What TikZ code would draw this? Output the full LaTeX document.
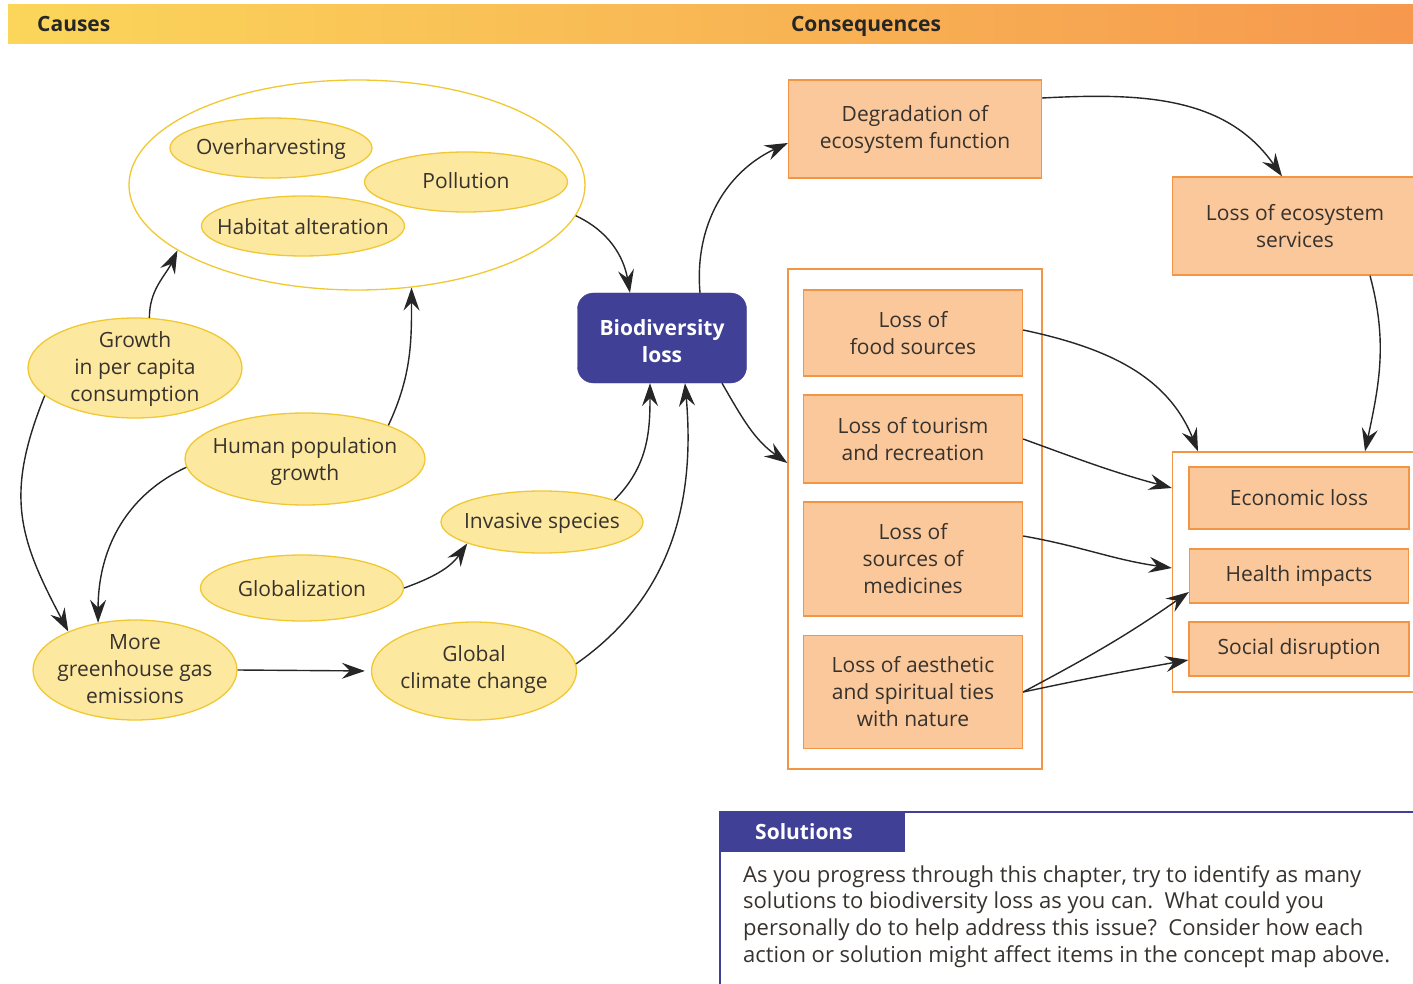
\documentclass[tikz,border=0pt]{standalone}
\usepackage{fontspec}
\setmainfont{Open Sans}
\usetikzlibrary{arrows.meta,shapes.geometric}
\definecolor{elfill}{RGB}{253,232,160}
\definecolor{eldraw}{RGB}{240,200,50}
\definecolor{bxfill}{RGB}{250,200,155}
\definecolor{bxdraw}{RGB}{242,150,70}
\definecolor{indigo}{RGB}{64,64,150}
\definecolor{txt}{RGB}{55,50,45}
\definecolor{hdleft}{RGB}{251,214,90}
\definecolor{hdright}{RGB}{246,152,78}
\tikzset{
  x=1pt,y=-1pt,
  base/.style={font=\fontsize{21}{27}\selectfont, text=txt, align=center, inner sep=0pt},
  cause/.style={ellipse, draw=eldraw, fill=elfill, line width=1.3pt, inner sep=0pt},
  ctext/.style={base, yshift=-1pt},
  cons/.style={base, rectangle, draw=bxdraw, fill=bxfill, line width=1.3pt},
  frame/.style={rectangle, draw=bxdraw, fill=white, line width=1.3pt, inner sep=0pt},
  hd/.style={font=\bfseries\fontsize{21}{25}\selectfont, inner sep=0pt, anchor=base},
  arr/.style={-{Stealth[length=23pt,width=16pt,inset=8pt]}, line width=1.4pt, draw=black!85},
}
\begin{document}
\begin{tikzpicture}
\useasboundingbox (0,0) rectangle (1413,984);
% header
\node[left color=hdleft, right color=hdright, minimum width=1405pt, minimum height=39pt, inner sep=0pt] (hdr) at (710.5,24.5) {};
\node[hd, text=black!85, anchor=base west] (causes) at (37,32) {Causes};
\node[hd, text=black!85] (conseq) at (866,32) {Consequences};

% causes
\node[cause, fill=white, minimum width=456pt, minimum height=210pt] (grp) at (357,185) {};
\node[cause, minimum width=202pt, minimum height=60pt, label={[ctext]center:Overharvesting}] (over) at (271,148) {};
\node[cause, minimum width=203pt, minimum height=60pt, label={[ctext,yshift=2pt]center:Pollution}] (poll) at (466,182) {};
\node[cause, minimum width=203pt, minimum height=60pt, label={[ctext]center:Habitat alteration}] (hab) at (303,226) {};
\node[cause, minimum width=214pt, minimum height=100pt, label={[ctext]center:Growth\\in per capita\\consumption}] (growth) at (135,368) {};
\node[cause, minimum width=240pt, minimum height=92pt, label={[ctext,yshift=-2pt]center:Human population\\growth}] (human) at (305,459) {};
\node[cause, minimum width=202pt, minimum height=62pt, label={[ctext]center:Invasive species}] (inv) at (542,522) {};
\node[cause, minimum width=203pt, minimum height=66pt, label={[ctext]center:Globalization}] (glob) at (302,588) {};
\node[cause, minimum width=204pt, minimum height=100pt, label={[ctext,yshift=2pt]center:More\\greenhouse gas\\emissions}] (ghg) at (135,670) {};
\node[cause, minimum width=205pt, minimum height=98pt, label={[ctext,yshift=2pt]center:Global\\climate change}] (clim) at (474,671) {};

% biodiversity loss
\node[base, rectangle, rounded corners=16pt, fill=indigo, draw=indigo, text=white, font=\bfseries\fontsize{21}{27}\selectfont, minimum width=169pt, minimum height=90pt] (bio) at (662,338) {};
\node[base, text=white, font=\bfseries\fontsize{21}{27}\selectfont] (biotext) at (662,341) {Biodiversity\\loss};

% consequences
\node[cons, minimum width=253pt, minimum height=98pt] (deg) at (915,129) {Degradation of\\ecosystem function};
\node[cons, minimum width=245pt, minimum height=98pt] (eco) at (1295,226) {Loss of ecosystem\\services};
\node[frame, minimum width=254pt, minimum height=500pt] (mid) at (915,519) {};
\node[cons, minimum width=219pt, minimum height=86pt] (food) at (913,333) {Loss of\\food sources};
\node[cons, minimum width=219pt, minimum height=88pt] (tour) at (913,439) {Loss of tourism\\and recreation};
\node[cons, minimum width=219pt, minimum height=114pt] (med) at (913,559) {Loss of\\sources of\\medicines};
\node[cons, minimum width=219pt, minimum height=113pt] (aes) at (913,692) {Loss of aesthetic\\and spiritual ties\\with nature};
\node[frame, minimum width=245pt, minimum height=240pt] (rbox) at (1295,572) {};
\node[cons, minimum width=220pt, minimum height=62pt] (econ) at (1299,498) {Economic loss};
\node[cons, minimum width=219pt, minimum height=54pt] (health) at (1299,576) {Health impacts};
\node[cons, minimum width=220pt, minimum height=54pt] (social) at (1299,649) {Social disruption};

% solutions
\coordinate (solTR) at (1413,812);
\coordinate (solBL) at (720,984);
\draw[indigo, line width=1.2pt] (solTR) -- (720,812) -- (solBL);
\node[fill=indigo, minimum width=185pt, minimum height=40pt, inner sep=0pt] (soltab) at (812.5,832) {};
\node[hd, text=white, anchor=base west] (soltitle) at (755,839) {Solutions};
\node[font=\fontsize{22}{26.7}\selectfont, text=txt, anchor=north west, align=left, inner sep=0pt] (soltext) at (743,865) {As you progress through this chapter, try to identify as many\\solutions to biodiversity loss as you can.\ \ What could you\\personally do to help address this issue?\ \ Consider how each\\action or solution might affect items in the concept map above.};

% arrows - causes
\draw[arr] (grp.-8) to[out=-25,in=100] ([xshift=-32pt]bio.north);
\draw[arr] (growth.74) to[out=90,in=245] (grp.200);
\draw[arr] (human.22) to[out=65,in=-90] (grp.-62);
\draw[arr] (growth.197) to[out=248,in=118,looseness=1.15] (ghg.150);
\draw[arr] (human.184) to[out=205,in=90] (ghg.128);
\draw[arr] (glob.east) to[out=20,in=235] (inv.196);
\draw[arr, shorten >=6pt] (ghg.east) -- (clim.west);
\draw[arr] (inv.17) to[out=45,in=-90] ([xshift=-12pt]bio.south);
\draw[arr] (clim.4) to[out=35,in=-85] ([xshift=23pt]bio.south);

% arrows - consequences
\draw[arr] ([xshift=38pt]bio.north) to[out=95,in=205] ([yshift=-14pt]deg.west);
\draw[arr] ([xshift=60pt]bio.south) to[out=-60,in=145] ([yshift=56pt]mid.west);
\draw[arr] ([yshift=31pt]deg.east) to[out=3,in=125] ([xshift=-13pt]eco.north);
\draw[arr] ([xshift=75pt]eco.south) to[out=-75,in=78] ([xshift=70pt]rbox.north);
\draw[arr] ([yshift=3pt]food.east) to[out=-12,in=112] ([xshift=-97pt]rbox.north);
\draw[arr] (tour.east) to[out=-20,in=165] ([yshift=84pt]rbox.west);
\draw[arr] ([yshift=23pt]med.east) to[out=-10,in=172] ([yshift=4pt]rbox.west);
\draw[arr] (aes.east) to[out=28,in=215] ([yshift=-16pt]health.west);
\draw[arr] (aes.east) to[out=12,in=190] ([yshift=-11pt]social.west);
\end{tikzpicture}
\end{document}
